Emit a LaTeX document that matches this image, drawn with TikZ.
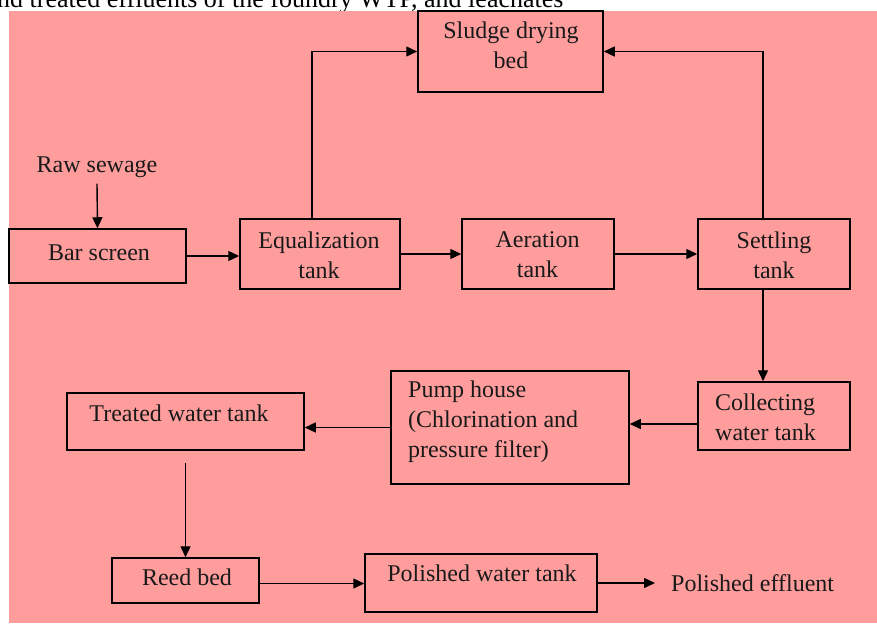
\documentclass[tikz,border=0pt]{standalone}
\usepackage{fontspec}
\setmainfont{Liberation Serif}
\usetikzlibrary{arrows.meta}
\definecolor{bgpink}{RGB}{255,157,157}
\begin{document}
\begin{tikzpicture}[x=1pt,y=-1pt,
  box/.style={draw=black,line width=1.5pt,rectangle,inner sep=0pt,fill=none},
  lbl/.style={font=\fontsize{24}{30}\selectfont,inner sep=0pt,align=center,text=black!90},
  flow/.style={line width=1.4pt,-{Triangle[length=11pt,width=10pt]}}]
\useasboundingbox (0,0) rectangle (877,623);
\clip (0,0) rectangle (877,623);
\fill[white] (0,0) rectangle (877,623);
\node[anchor=base west,inner sep=0pt,font=\fontsize{26}{30}\selectfont] (cap) at (-3,8) {nd treated effluents of the foundry WTP, and leachates};
\fill[bgpink] (9,11) rectangle (877,623);

% boxes
\node[box,minimum width=185pt,minimum height=81pt] (sludge) at (510.5,51.5) {};
\node[box,minimum width=177pt,minimum height=54pt] (bar) at (97.5,256) {};
\node[box,minimum width=160pt,minimum height=70pt] (eq) at (320,254) {};
\node[box,minimum width=152pt,minimum height=70pt] (aer) at (538,254) {};
\node[box,minimum width=152pt,minimum height=70pt] (settle) at (774,254) {};
\node[box,minimum width=152pt,minimum height=68pt] (collect) at (774,416) {};
\node[box,minimum width=238pt,minimum height=113pt] (pump) at (510,427.5) {};
\node[box,minimum width=237pt,minimum height=57pt] (treated) at (185.5,421.5) {};
\node[box,minimum width=147pt,minimum height=45pt] (reed) at (185.5,580.5) {};
\node[box,minimum width=232pt,minimum height=58pt] (polished) at (481,583) {};

% texts
\node[lbl] (sludgeT) at (511,45) {Sludge drying\\bed};
\node[lbl] (barT) at (99,253) {Bar screen};
\node[lbl] (eqT) at (319,255) {Equalization\\tank};
\node[lbl] (aerT) at (537.5,255) {Aeration\\tank};
\node[lbl] (settleT) at (774,255) {Settling\\tank};
\node[lbl,align=left,anchor=west] (collectT) at (715,417) {Collecting\\water tank};
\node[lbl,align=left,anchor=west] (pumpT) at (408,422) {Pump house\\(Chlorination and\\pressure filter)};
\node[lbl] (treatedT) at (179,413) {Treated water tank};
\node[lbl] (reedT) at (187,577) {Reed bed};
\node[lbl] (polishedT) at (482,573) {Polished water tank};
\node[lbl] (raw) at (97,167) {Raw sewage};
\node[lbl,anchor=west] (eff) at (671,583) {Polished effluent};

% connectors
\draw[flow] ([yshift=-6pt]raw.south) -- (bar.north);
\draw[flow] (bar.east) -- (bar.east -| eq.west);
\draw[flow] ([xshift=-8pt]eq.north) |- (sludge.west);
\draw[flow] (eq.east) -- (aer.west);
\draw[flow] (aer.east) -- (settle.west);
\draw[flow] ([xshift=-11pt]settle.north) |- (sludge.east);
\draw[flow] ([xshift=-11pt]settle.south) -- ([xshift=-11pt]collect.north);
\draw[flow] ([yshift=-8pt]collect.west) -- ([yshift=-8pt]collect.west -| pump.east);
\draw[flow] (pump.west) -- (pump.west -| treated.east);
\draw[flow] ([yshift=-12pt]treated.south) -- (reed.north);
\draw[flow] ([yshift=-3pt]reed.east) -- ([yshift=-3pt]reed.east -| polished.west);
\draw[flow] (polished.east) -- ([xshift=-16pt]eff.west);
\end{tikzpicture}
\end{document}
